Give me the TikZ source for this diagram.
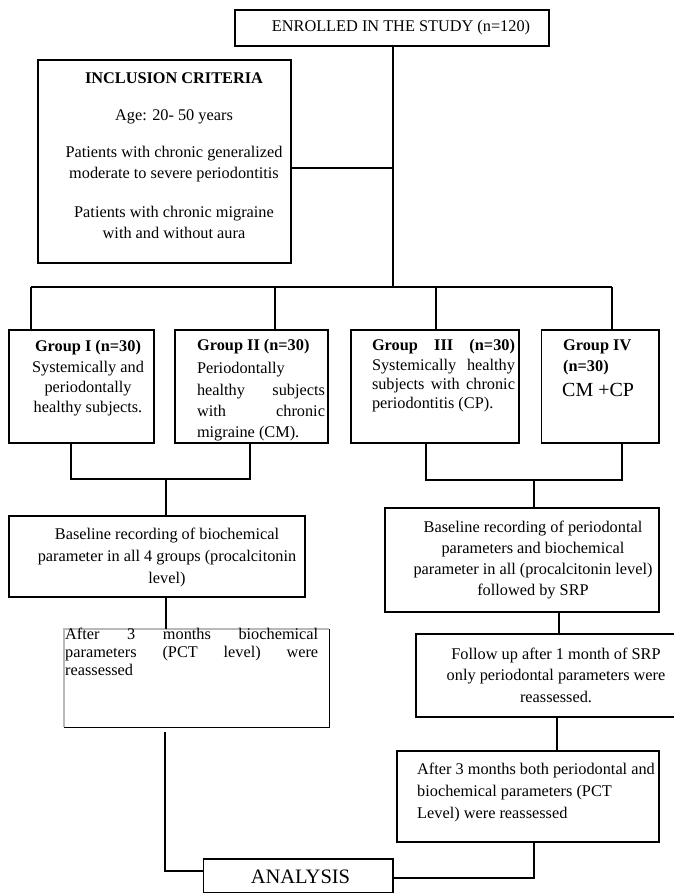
\documentclass[tikz,border=0pt]{standalone}
\usepackage{fontspec}
\setmainfont{Liberation Serif}
\newcommand{\jl}[2]{\makebox[#1][s]{#2}}
\begin{document}
\begin{tikzpicture}[x=1pt,y=-1pt,
  box/.style={draw=black,line width=1.4pt,inner sep=0pt},
  conn/.style={draw=black,line width=1.4pt},
  txt/.style={inner sep=0pt,font=\fontsize{16.3}{20}\selectfont},
  btxt/.style={inner sep=0pt,font=\fontsize{16.3}{20}\selectfont\bfseries},
  ]
\useasboundingbox (0,0) rectangle (673,894);
% boxes
\node[box,minimum width=314pt,minimum height=36pt] (enr) at (392,28) {};
\node[box,minimum width=253pt,minimum height=203pt] (inc) at (164.5,161.5) {};
\node[box,minimum width=145pt,minimum height=113pt] (g1) at (81.5,386.5) {};
\node[box,minimum width=153pt,minimum height=113pt] (g2) at (251.5,386.5) {};
\node[box,minimum width=168pt,minimum height=113pt] (g3) at (435,386.5) {};
\node[box,minimum width=117.5pt,minimum height=113pt] (g4) at (600.25,386.5) {};
\node[box,minimum width=296pt,minimum height=81pt] (bl) at (157,556.5) {};
\node[box,minimum width=274pt,minimum height=104pt] (br) at (522,560) {};
\node[inner sep=0pt,minimum width=265pt,minimum height=98pt] (pct) at (196.5,678) {};
\draw[gray!55,line width=1.4pt] (pct.south west) -- (pct.north west) -- (pct.north east);
\draw[black,line width=1.4pt] (pct.north east) -- (pct.south east) -- (pct.south west);
\node[box,minimum width=274pt,minimum height=83pt] (fu) at (553,675.5) {};
\node[box,minimum width=262pt,minimum height=91pt] (a3) at (528,796.5) {};
\node[box,minimum width=189.4pt,minimum height=33.5pt] (an) at (298.3,875.75) {};
% texts
\node[txt] (tenr) at (401,28) {ENROLLED IN THE STUDY (n=120)};
\node[btxt] (tinc) at (174,78) {INCLUSION CRITERIA};
\node[txt] (tage) at (174,117) {Age: 20- 50 years};
\node[txt,align=center,font=\fontsize{16.3}{20.5}\selectfont] (tper) at (174,164) {Patients with chronic generalized\\moderate to severe periodontitis};
\node[txt,align=center,font=\fontsize{16.3}{21}\selectfont] (tmig) at (174,222) {Patients with chronic migraine\\with and without aura};
% group I
\node[btxt] (h1) at (88,348) {Group I (n=30)};
\node[txt,align=center] (t1) at (88,389) {Systemically and\\periodontally\\healthy subjects.};
% group II
\node[btxt,anchor=west] (h2) at (197,347) {Group II (n=30)};
\node[txt,align=left,font=\fontsize{16.3}{21.3}\selectfont] (t2) at (261,402) {Periodontally\\\jl{128pt}{healthy subjects}\\\jl{128pt}{with chronic}\\migraine (CM).};
% group III
\node[btxt] (h3) at (443.5,347) {\jl{143pt}{Group III (n=30)}};
\node[txt,align=left,font=\fontsize{16.3}{19}\selectfont] (t3) at (443.5,386) {\jl{143pt}{Systemically healthy}\\\jl{143pt}{subjects with chronic}\\periodontitis (CP).};
% group IV
\node[btxt,anchor=west] (h4a) at (563,347) {Group IV};
\node[btxt,anchor=west] (h4b) at (563,368) {(n=30)};
\node[txt,anchor=west,font=\fontsize{20}{24}\selectfont] (t4) at (562,390) {CM +CP};
% baselines
\node[txt,align=center,font=\fontsize{16.3}{22}\selectfont] (tbl) at (167,557) {Baseline recording of biochemical\\parameter in all 4 groups (procalcitonin\\level)};
\node[txt,align=center,font=\fontsize{16.3}{21}\selectfont] (tbr) at (533,560) {Baseline recording of periodontal\\parameters and biochemical\\parameter in all (procalcitonin level)\\followed by SRP};
% pct
\node[txt,align=left,font=\fontsize{16.3}{18}\selectfont,anchor=north west] (tpct) at (65,628) {\jl{253pt}{After 3 months biochemical}\\\jl{253pt}{parameters (PCT level) were}\\reassessed};
% follow up
\node[txt,align=center,font=\fontsize{16.3}{21.5}\selectfont] (tfu) at (556,675) {Follow up after 1 month of SRP\\only periodontal parameters were\\reassessed.};
% after 3
\node[txt,align=left,font=\fontsize{16.3}{22}\selectfont,anchor=west] (ta3) at (417,792) {After 3 months both periodontal and\\biochemical parameters (PCT\\Level) were reassessed};
\node[txt,font=\fontsize{20.5}{24}\selectfont] (tan) at (300.5,877) {ANALYSIS};
% connectors
\coordinate (bus) at (393,287);
\coordinate (incj) at (393,168);
\draw[conn] (enr.south -| bus) -- (bus);
\draw[conn] (inc.east |- incj) -- (incj);
\coordinate (busL) at (31,287);
\coordinate (busR) at (612,287);
\coordinate (d2) at (275,287);
\coordinate (d3) at (436,287);
\draw[conn] (busL) -- (busR);
\draw[conn] (busL) -- (busL |- g1.north);
\draw[conn] (d2) -- (d2 |- g2.north);
\draw[conn] (d3) -- (d3 |- g3.north);
\draw[conn] (busR) -- (busR |- g4.north);
% left join
\coordinate (lj1) at (71,479);
\coordinate (lj2) at (250,479);
\coordinate (ljm) at (166,479);
\draw[conn] (lj1 |- g1.south) -- (lj1) -- (lj2) -- (lj2 |- g2.south);
\draw[conn] (ljm) -- (ljm |- bl.north);
% right join
\coordinate (rj1) at (426,480);
\coordinate (rj2) at (622,480);
\coordinate (rjm) at (534,480);
\draw[conn] (rj1 |- g3.south) -- (rj1) -- (rj2) -- (rj2 |- g4.south);
\draw[conn] (rjm) -- (rjm |- br.north);
% down chains
\draw[conn] (bl.south -| ljm) -- (pct.north -| ljm);
\coordinate (rx) at (559,0);
\draw[conn] (br.south -| rx) -- (fu.north -| rx);
\coordinate (rx2) at (557,0);
\draw[conn] (fu.south -| rx2) -- (a3.north -| rx2);
\coordinate (lc) at (165,871);
\draw[conn] ([yshift=-5pt]pct.south -| lc) -- (lc) -- (an.west |- lc);
\coordinate (rc) at (534,878);
\draw[conn] (a3.south -| rc) -- (rc) -- (an.east |- rc);
\end{tikzpicture}
\end{document}
